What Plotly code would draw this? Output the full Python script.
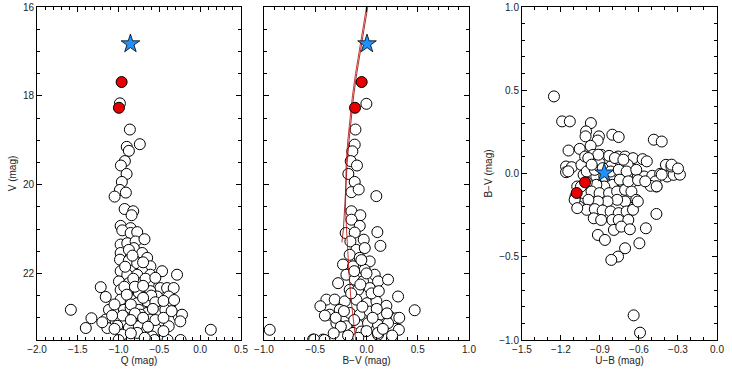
import plotly.graph_objects as go

# panel 1: Q vs V
q_open = [-0.984, -0.862, -0.74, -0.90, -0.874, -0.923, -0.972, -0.902, -0.96, -0.984,
          -0.911, -1.049, -0.926, -0.821, -0.841, -0.975, -0.853, -0.955, -0.853, -0.772,
          -0.975, -0.894, -0.792, -0.683, -0.813, -0.975, -0.874, -0.711, -0.65, -0.983,
          -0.874, -0.772, -0.61, -0.711, -0.975, -0.894, -0.772, -0.61, -0.467, -0.284,
          -0.996, -0.874, -0.731, -0.63, -0.488, -0.406, -0.325, -1.219, -1.158, -0.975,
          -0.894, -0.752, -0.61, -0.528, -0.386, -0.975, -0.853, -0.772, -0.65, -0.488,
          -0.366, -0.264, -0.223, -1.118, -1.016, -0.935, -0.853, -0.752, -0.65, -0.528,
          -0.427, -1.333, -1.402, -1.158, -1.036, -0.914, -0.813, -0.731, -0.61, -0.488,
          -0.386, -1.138, -1.016, -0.874, -0.752, -0.67, -0.528, -0.955, -0.772, -0.589,
          -1.585, 0.13, -0.244, -1.0, -0.56, -0.4, -0.24,
          -0.83, -0.92, -0.70, -0.82, -0.67, -0.55, -0.93, -0.80, -0.70, -0.60,
          -0.90, -0.70, -0.55, -0.45, -1.05, -0.85, -0.58, -0.80, -0.95, -1.08,
          -0.70, -0.55, -0.45, -0.85, -1.05, -0.64, -0.45, -0.85, -0.68, -1.20,
          -0.32, -0.35]
v_open = [18.17, 18.76, 19.09, 19.15, 19.24, 19.47, 19.57, 19.76, 19.94, 20.12,
          20.18, 20.27, 20.55, 20.60, 20.69, 20.93, 20.98, 21.03, 21.09, 21.07,
          21.35, 21.32, 21.28, 21.23, 21.43, 21.54, 21.47, 21.54, 21.65, 21.69,
          21.71, 21.77, 21.84, 21.95, 21.95, 22.03, 22.03, 22.03, 21.95, 22.03,
          22.18, 22.22, 22.22, 22.22, 22.33, 22.33, 22.33, 22.31, 22.53, 22.37,
          22.40, 22.44, 22.40, 22.52, 22.52, 22.59, 22.59, 22.67, 22.63, 22.74,
          22.70, 22.97, 22.93, 22.82, 22.86, 22.82, 22.78, 22.82, 22.89, 22.86,
          22.82, 23.01, 23.23, 23.04, 23.08, 23.10, 22.97, 22.93, 23.04, 23.12,
          23.19, 23.23, 23.18, 23.23, 23.19, 23.31, 23.27, 23.38, 23.34, 23.42,
          22.82, 23.27, 23.08, 23.50, 23.50, 23.50, 23.50,
          21.60, 21.85, 21.75, 22.12, 22.12, 22.10, 22.30, 22.30, 22.28, 22.50,
          22.48, 22.55, 22.65, 22.62, 22.70, 22.70, 22.80, 22.90, 22.95, 22.95,
          23.00, 23.05, 23.00, 23.05, 23.25, 23.20, 23.30, 23.35, 23.45, 23.10,
          22.60, 22.85]
q_red = [-0.963, -0.996]
v_red = [17.69, 18.27]
q_star = [-0.855]
v_star = [16.83]

# panel 2: B-V vs V
bv_open = [-0.001, -0.108, -0.115, -0.138, -0.154, -0.093, -0.177, -0.115, -0.147, -0.076,
           0.096, -0.147, -0.06, -0.147, -0.066, -0.203, -0.115, 0.106, -0.027, -0.157,
           0.136, -0.099, -0.017, -0.164, -0.066, 0.031, -0.229, -0.131, -0.017, 0.08,
           -0.196, -0.277, -0.115, -0.034, 0.113, 0.21, -0.164, -0.082, 0.031, 0.308,
           -0.391, -0.31, -0.212, -0.099, 0.005, 0.097, 0.194, -0.45, -0.359, -0.261,
           -0.164, -0.066, 0.031, 0.129, 0.227, 0.292, -0.294, -0.196, -0.082, 0.015,
           0.113, 0.21, -0.131, -0.05, 0.113, -0.521, -0.424,
           0.47, -0.944, 0.32, 0.316, 0.112, -0.51, -0.41, -0.406, -0.30,
           -0.05, -0.12, 0.0, -0.06, 0.05, 0.12, -0.15, -0.04, 0.10, -0.22,
           -0.12, 0.06, 0.20, -0.25, 0.0, -0.18, 0.16, -0.32, 0.25, -0.08]
v2_open = [18.18, 18.76, 19.10, 19.25, 19.47, 19.57, 19.76, 19.94, 20.17, 20.11,
           20.26, 20.60, 20.69, 20.79, 20.93, 21.09, 21.08, 21.07, 21.24, 21.28,
           21.38, 21.47, 21.43, 21.58, 21.65, 21.73, 21.80, 21.84, 21.92, 22.03,
           22.03, 22.22, 22.14, 22.18, 22.18, 22.14, 22.37, 22.37, 22.33, 22.52,
           22.59, 22.59, 22.63, 22.59, 22.67, 22.63, 22.73, 22.74, 22.93, 22.82,
           22.89, 22.93, 22.86, 22.93, 22.97, 23.01, 23.12, 23.19, 23.16, 23.12,
           23.16, 23.12, 23.34, 23.31, 23.38, 23.49, 23.49,
           22.83, 23.27, 23.00, 23.27, 23.34, 23.49, 23.50, 22.95, 23.00,
           21.70, 21.95, 22.00, 22.25, 22.45, 22.40, 22.45, 22.75, 22.80, 22.85,
           23.05, 23.00, 22.90, 23.20, 23.30, 23.40, 23.25, 23.35, 23.40, 23.45]
bv_red = [-0.047, -0.112]
v2_red = [17.69, 18.27]
bv_star = [0.005]
v2_star = [16.83]

# isochrones in panel 2
iso1_v = [16.0, 16.5, 17.0, 17.5, 18.0, 18.5, 19.0, 19.5, 20.0, 20.5, 21.0, 21.3]
iso1_bv = [0.012, -0.025, -0.06, -0.095, -0.125, -0.15, -0.17, -0.188, -0.20, -0.21, -0.225, -0.24]
iso2_v = [16.0, 16.5, 17.0, 17.5, 18.0, 18.5, 19.0, 19.5, 20.0, 20.5, 21.0, 21.5, 22.0, 22.5, 23.0, 23.5]
iso2_bv = [0.0, -0.037, -0.072, -0.107, -0.137, -0.162, -0.182, -0.198, -0.205, -0.205, -0.195, -0.185, -0.17, -0.155, -0.13, -0.105]

# panel 3: U-B vs B-V
ub_open = [-1.254, -1.191, -1.132, -0.970, -1.007, -1.011, -0.908, -0.918, -0.805, -0.756,
           -0.486, -0.425, -1.142, -1.056, -0.972, -1.161, -1.117, -1.161,
           -1.043, -1.014, -0.953, -0.891, -0.830, -0.761, -0.707, -0.646, -0.572, -0.687,
           -0.756, -0.818, -0.903, -0.965, -1.026, -0.977, -0.928, -0.867, -0.805, -0.744,
           -0.707, -0.646, -0.609, -0.560, -0.498, -0.437, -0.383, -0.334, -0.393, -0.351,
           -0.474, -0.466, -0.511, -0.658, -0.719, -0.805, -0.867, -0.928, -1.002, -1.075,
           -1.088, -1.026, -0.965, -0.903, -0.830, -0.768, -0.707, -0.658, -0.621, -0.707,
           -0.768, -0.842, -0.916, -0.989, -1.063, -1.002, -0.940, -0.879, -0.818, -0.756,
           -0.695, -0.646, -0.609, -0.805, -0.756, -0.682, -0.793, -0.736, -0.948, -0.891,
           -0.670, -0.547, -0.466, -0.916, -0.862, -0.707, -0.761, -0.813, -0.597, -0.641,
           -0.592, -1.002, -0.940, -0.879, -0.818, -0.756, -0.695, -0.621, -1.046, -1.095,
           -1.075,
           -0.913, -0.785, -0.72, -0.54, -1.144, -0.99, -0.964, -0.349, -0.425, -0.285,
           -0.464, -0.747, -0.682, -0.607, -0.552, -0.30]
bv3_open = [0.463, 0.313, 0.313, 0.303, 0.253, 0.223, 0.223, 0.198, 0.233, 0.219,
            0.203, 0.192, 0.138, 0.148, 0.166, 0.042, 0.038, 0.008,
            0.052, 0.102, 0.112, 0.112, 0.106, 0.102, 0.102, 0.092, 0.086, 0.052,
            0.062, 0.042, 0.062, 0.042, -0.008, -0.038, -0.018, -0.018, -0.028, -0.008,
            -0.028, -0.028, -0.018, -0.018, -0.014, -0.002, -0.018, -0.008, 0.052, 0.042,
            -0.048, -0.078, -0.074, -0.054, -0.058, -0.068, -0.078, -0.068, -0.054, -0.078,
            -0.138, -0.118, -0.108, -0.118, -0.118, -0.108, -0.098, -0.108, -0.158, -0.168,
            -0.158, -0.168, -0.168, -0.158, -0.198, -0.218, -0.214, -0.222, -0.228, -0.238,
            -0.228, -0.218, -0.168, -0.279, -0.279, -0.279, -0.339, -0.319, -0.269, -0.279,
            -0.335, -0.329, -0.243, -0.369, -0.399, -0.449, -0.499, -0.519, -0.419, -0.852,
            -0.956, 0.012, 0.022, 0.032, 0.012, 0.022, 0.012, 0.022, -0.078, -0.158,
            -0.208,
            0.113, 0.093, 0.083, 0.073, 0.013, 0.093, 0.053, 0.053, -0.007, -0.007,
            -0.077, -0.037, -0.047, -0.04, -0.047, 0.03]
ub_red = [-1.015, -1.079]
bv3_red = [-0.053, -0.117]
ub_star = [-0.867]
bv3_star = [0.003]

open_marker = dict(size=11, color='white', line=dict(color='black', width=1))
red_marker = dict(size=11, color='#e80000', line=dict(color='black', width=1))
star_marker = dict(size=14, symbol='star', color='#1e90ff', line=dict(color='black', width=0.8))

fig = go.Figure()
fig.add_trace(go.Scatter(x=q_open, y=v_open, mode='markers', marker=open_marker, xaxis='x', yaxis='y'))
fig.add_trace(go.Scatter(x=q_red, y=v_red, mode='markers', marker=red_marker, xaxis='x', yaxis='y'))
fig.add_trace(go.Scatter(x=q_star, y=v_star, mode='markers', marker=star_marker, xaxis='x', yaxis='y'))

fig.add_trace(go.Scatter(x=bv_open, y=v2_open, mode='markers', marker=open_marker, xaxis='x2', yaxis='y2'))
fig.add_trace(go.Scatter(x=iso1_bv, y=iso1_v, mode='lines', line=dict(color='#8b0000', width=0.8),
                         xaxis='x2', yaxis='y2'))
fig.add_trace(go.Scatter(x=iso2_bv, y=iso2_v, mode='lines', line=dict(color='#c00000', width=0.8),
                         xaxis='x2', yaxis='y2'))
fig.add_trace(go.Scatter(x=bv_red, y=v2_red, mode='markers', marker=red_marker, xaxis='x2', yaxis='y2'))
fig.add_trace(go.Scatter(x=bv_star, y=v2_star, mode='markers', marker=star_marker, xaxis='x2', yaxis='y2'))

fig.add_trace(go.Scatter(x=ub_open, y=bv3_open, mode='markers', marker=open_marker, xaxis='x3', yaxis='y3'))
fig.add_trace(go.Scatter(x=ub_red, y=bv3_red, mode='markers', marker=red_marker, xaxis='x3', yaxis='y3'))
fig.add_trace(go.Scatter(x=ub_star, y=bv3_star, mode='markers', marker=star_marker, xaxis='x3', yaxis='y3'))

font = dict(family='Liberation Sans, Arial, sans-serif', size=10, color='#222')
frame = dict(showline=True, linecolor='black', linewidth=1, mirror='ticks', ticks='inside',
             ticklen=5, tickcolor='black', showgrid=False, zeroline=False, tickfont=font,
             automargin=False)
minor_x = dict(dtick=0.1, ticklen=3, ticks='inside', tickcolor='black')

fig.update_layout(
    width=732, height=374, showlegend=False,
    paper_bgcolor='white', plot_bgcolor='white',
    margin=dict(l=37, r=15, t=7, b=34),
    xaxis=dict(domain=[0, 0.3], range=[-2.0, 0.5], dtick=0.5, tickformat='.1f', minor=minor_x,
               title=dict(text='Q (mag)', font=font, standoff=2), anchor='y', **frame),
    yaxis=dict(domain=[0, 1], range=[23.5, 16], dtick=2, tickformat='d',
               minor=dict(dtick=0.5, ticklen=3, ticks='inside', tickcolor='black'),
               title=dict(text='V (mag)', font=font, standoff=4), anchor='x', **frame),
    xaxis2=dict(domain=[0.3338, 0.6353], range=[-1.0, 1.0], dtick=0.5, tickformat='.1f', minor=minor_x,
                title=dict(text='B\u2212V (mag)', font=font, standoff=2), anchor='y2', **frame),
    yaxis2=dict(domain=[0, 1], range=[23.5, 16], dtick=2, showticklabels=False,
                minor=dict(dtick=0.5, ticklen=3, ticks='inside', tickcolor='black'),
                anchor='x2', **frame),
    xaxis3=dict(domain=[0.7132, 1.0], range=[-1.5, 0.0], dtick=0.3, tickformat='.1f', minor=minor_x,
                title=dict(text='U\u2212B (mag)', font=font, standoff=2), anchor='y3', **frame),
    yaxis3=dict(domain=[0, 1], range=[-1.0, 1.0], dtick=0.5, tickformat='.1f',
                minor=dict(dtick=0.1, ticklen=3, ticks='inside', tickcolor='black'),
                title=dict(text='B\u2212V (mag)', font=font, standoff=4), anchor='x3', **frame),
)

# the page has a default body margin; drop it so the figure sits at the window corner
fig.write_html("out.html", config={'displayModeBar': False},
               post_script="document.body.style.margin='0';")
